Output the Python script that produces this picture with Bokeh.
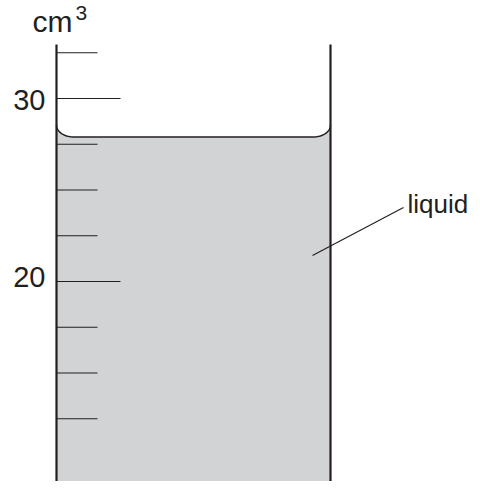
import numpy as np
from bokeh.plotting import figure
from bokeh.models import Range1d
from bokeh.core.properties import value
from bokeh.embed import file_html
from bokeh.resources import INLINE

# data
tick_values = [32.5, 30, 27.5, 25, 22.5, 20, 17.5, 15, 12.5]
labelled_ticks = [30, 20]
tick_labels = ["30", "20"]
liquid_level = 27.9
meniscus_rise = 0.65
unit_label = "cm"
liquid_label = "liquid"

# layout (pixel-like x, volume y)
PX_PER_UNIT = 18.3
def vy(py):
    return 30 - (py - 98) / PX_PER_UNIT

left_x, right_x = 56, 330
wall_top = vy(44)
bottom = vy(500)
FONT = value("Liberation Sans")
INK = "#231f20"

p = figure(width=472, height=481, output_backend="svg", toolbar_location=None,
           x_range=Range1d(0, 472), y_range=Range1d(vy(481), vy(0)),
           min_border=0)
p.axis.visible = False
p.grid.visible = False
p.outline_line_color = None
p.background_fill_color = "white"
p.border_fill_color = "white"

# liquid with meniscus
rx = 17
t = np.linspace(0, np.pi / 2, 20)
lx = left_x + rx * (1 - np.cos(t))
ly = liquid_level + meniscus_rise * (1 - np.sin(t))
rxs = right_x - rx * (1 - np.cos(t[::-1]))
rys = liquid_level + meniscus_rise * (1 - np.sin(t[::-1]))
surf_x = np.concatenate([lx, rxs])
surf_y = np.concatenate([ly, rys])
poly_x = np.concatenate([[left_x], surf_x, [right_x, right_x, left_x]])
poly_y = np.concatenate([[bottom], surf_y, [liquid_level + meniscus_rise, bottom, bottom]])
p.patch(poly_x, poly_y, fill_color="#d1d3d4", line_color=None)
p.line(surf_x, surf_y, line_color=INK, line_width=1.5)

# ticks
for v in tick_values:
    x_end = 120 if v in labelled_ticks else 97
    p.line([left_x, x_end], [v, v], line_color=INK, line_width=1.2)

# walls
p.line([left_x, left_x], [wall_top, bottom], line_color=INK, line_width=2.2)
p.line([right_x, right_x], [wall_top, bottom], line_color=INK, line_width=2.2)

# labels
label_offsets = [-1, 5]  # px above the tick line
p.text(x=[45] * len(labelled_ticks),
       y=[v + o / PX_PER_UNIT for v, o in zip(labelled_ticks, label_offsets)],
       text=tick_labels, text_align="right", text_baseline="middle", text_font=FONT,
       text_font_size="29px", text_color=INK)
p.text(x=[32], y=[vy(21)], text=[unit_label], text_align="left", text_baseline="middle",
       text_font=FONT, text_font_size="30px", text_color=INK)
p.text(x=[75], y=[vy(12)], text=["3"], text_align="left", text_baseline="middle",
       text_font=FONT, text_font_size="21px", text_color=INK)

# leader
p.line([312, 403], [vy(255), vy(207)], line_color=INK, line_width=1.2)
p.text(x=[407], y=[vy(203)], text=[liquid_label], text_align="left", text_baseline="middle",
       text_font=FONT, text_font_size="26px", text_color=INK)

open("out.html", "w").write(file_html(p, INLINE))
